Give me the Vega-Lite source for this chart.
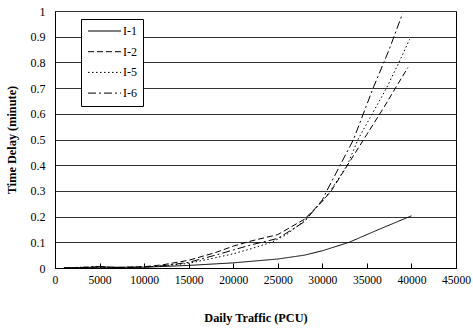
{
  "$schema": "https://vega.github.io/schema/vega-lite/v6.json",
  "width": 401,
  "height": 257,
  "autosize": "none",
  "padding": {"left": 55, "top": 11, "right": 17, "bottom": 60},
  "background": "white",
  "config": {
    "font": "Liberation Serif",
    "view": {"stroke": "black", "strokeWidth": 1}
  },
  "data": {"values": [
    {"x": 1000, "y": 0, "s": "I-1"},
    {"x": 5000, "y": 0.003, "s": "I-1"},
    {"x": 10000, "y": 0.003, "s": "I-1"},
    {"x": 15000, "y": 0.01, "s": "I-1"},
    {"x": 20000, "y": 0.02, "s": "I-1"},
    {"x": 25000, "y": 0.035, "s": "I-1"},
    {"x": 28000, "y": 0.05, "s": "I-1"},
    {"x": 30000, "y": 0.067, "s": "I-1"},
    {"x": 33000, "y": 0.1, "s": "I-1"},
    {"x": 36000, "y": 0.145, "s": "I-1"},
    {"x": 40000, "y": 0.203, "s": "I-1"},

    {"x": 1000, "y": 0, "s": "I-2"},
    {"x": 3000, "y": 0.002, "s": "I-2"},
    {"x": 5000, "y": 0.005, "s": "I-2"},
    {"x": 7000, "y": 0.002, "s": "I-2"},
    {"x": 10000, "y": 0.005, "s": "I-2"},
    {"x": 12000, "y": 0.012, "s": "I-2"},
    {"x": 15000, "y": 0.03, "s": "I-2"},
    {"x": 18000, "y": 0.06, "s": "I-2"},
    {"x": 20000, "y": 0.085, "s": "I-2"},
    {"x": 22000, "y": 0.105, "s": "I-2"},
    {"x": 25000, "y": 0.13, "s": "I-2"},
    {"x": 28000, "y": 0.19, "s": "I-2"},
    {"x": 30000, "y": 0.26, "s": "I-2"},
    {"x": 31000, "y": 0.3, "s": "I-2"},
    {"x": 33000, "y": 0.41, "s": "I-2"},
    {"x": 35000, "y": 0.52, "s": "I-2"},
    {"x": 37000, "y": 0.63, "s": "I-2"},
    {"x": 38200, "y": 0.7, "s": "I-2"},
    {"x": 39600, "y": 0.78, "s": "I-2"},

    {"x": 1000, "y": 0, "s": "I-5"},
    {"x": 3000, "y": 0.003, "s": "I-5"},
    {"x": 5000, "y": 0.004, "s": "I-5"},
    {"x": 7000, "y": 0.001, "s": "I-5"},
    {"x": 10000, "y": 0.004, "s": "I-5"},
    {"x": 12000, "y": 0.008, "s": "I-5"},
    {"x": 15000, "y": 0.018, "s": "I-5"},
    {"x": 18000, "y": 0.04, "s": "I-5"},
    {"x": 20000, "y": 0.055, "s": "I-5"},
    {"x": 22000, "y": 0.075, "s": "I-5"},
    {"x": 24300, "y": 0.1, "s": "I-5"},
    {"x": 26000, "y": 0.13, "s": "I-5"},
    {"x": 28000, "y": 0.185, "s": "I-5"},
    {"x": 30000, "y": 0.26, "s": "I-5"},
    {"x": 30900, "y": 0.3, "s": "I-5"},
    {"x": 32800, "y": 0.4, "s": "I-5"},
    {"x": 34000, "y": 0.5, "s": "I-5"},
    {"x": 35600, "y": 0.6, "s": "I-5"},
    {"x": 37200, "y": 0.7, "s": "I-5"},
    {"x": 38600, "y": 0.8, "s": "I-5"},
    {"x": 39800, "y": 0.89, "s": "I-5"},

    {"x": 1000, "y": 0, "s": "I-6"},
    {"x": 3000, "y": 0.002, "s": "I-6"},
    {"x": 5000, "y": 0.006, "s": "I-6"},
    {"x": 7000, "y": 0.001, "s": "I-6"},
    {"x": 10000, "y": 0.004, "s": "I-6"},
    {"x": 12000, "y": 0.008, "s": "I-6"},
    {"x": 15000, "y": 0.022, "s": "I-6"},
    {"x": 18000, "y": 0.05, "s": "I-6"},
    {"x": 20000, "y": 0.07, "s": "I-6"},
    {"x": 22000, "y": 0.09, "s": "I-6"},
    {"x": 25000, "y": 0.115, "s": "I-6"},
    {"x": 28000, "y": 0.18, "s": "I-6"},
    {"x": 30000, "y": 0.265, "s": "I-6"},
    {"x": 30500, "y": 0.3, "s": "I-6"},
    {"x": 32000, "y": 0.4, "s": "I-6"},
    {"x": 33500, "y": 0.5, "s": "I-6"},
    {"x": 34600, "y": 0.6, "s": "I-6"},
    {"x": 35700, "y": 0.7, "s": "I-6"},
    {"x": 37500, "y": 0.85, "s": "I-6"},
    {"x": 39000, "y": 0.99, "s": "I-6"}
  ]},
  "mark": {"type": "line", "color": "black", "strokeWidth": 1},
  "encoding": {
    "x": {
      "field": "x", "type": "quantitative",
      "scale": {"domain": [0, 45000], "nice": false},
      "axis": {
        "title": "Daily Traffic (PCU)",
        "values": [0, 5000, 10000, 15000, 20000, 25000, 30000, 35000, 40000, 45000],
        "format": "d",
        "grid": false,
        "domainColor": "black",
        "tickColor": "black",
        "tickSize": -5,
        "labelPadding": 11,
        "labelFontSize": 11.6,
        "labelColor": "black",
        "labelFlush": false,
        "titleFontSize": 12.3,
        "titleFontWeight": "bold",
        "titleColor": "black",
        "titlePadding": 26
      }
    },
    "y": {
      "field": "y", "type": "quantitative",
      "scale": {"domain": [0, 1], "nice": false},
      "axis": {
        "title": "Time Delay (minute)",
        "values": [0, 0.1, 0.2, 0.3, 0.4, 0.5, 0.6, 0.7, 0.8, 0.9, 1],
        "format": "~g",
        "grid": true,
        "gridColor": "#333",
        "gridOpacity": 1,
        "ticks": false,
        "domainColor": "black",
        "labelPadding": 10,
        "labelFontSize": 12,
        "labelColor": "black",
        "labelFlush": false,
        "titleFontSize": 12.3,
        "titleFontWeight": "bold",
        "titleColor": "black",
        "titlePadding": 12
      }
    },
    "strokeDash": {
      "field": "s", "type": "nominal",
      "scale": {"domain": ["I-1", "I-2", "I-5", "I-6"], "range": [[1, 0], [6, 3], [1.5, 2.5], [8, 3, 2, 3]]},
      "legend": {
        "title": null,
        "orient": "none",
        "legendX": 26,
        "legendY": 8,
        "fillColor": "white",
        "strokeColor": "black",
        "padding": 6,
        "symbolType": "M-1,0H5.6",
        "symbolSize": 100,
        "symbolStrokeColor": "black",
        "symbolStrokeWidth": 1,
        "labelFontSize": 12,
        "labelColor": "black",
        "labelOffset": 24,
        "rowPadding": 8.7
      }
    }
  }
}
